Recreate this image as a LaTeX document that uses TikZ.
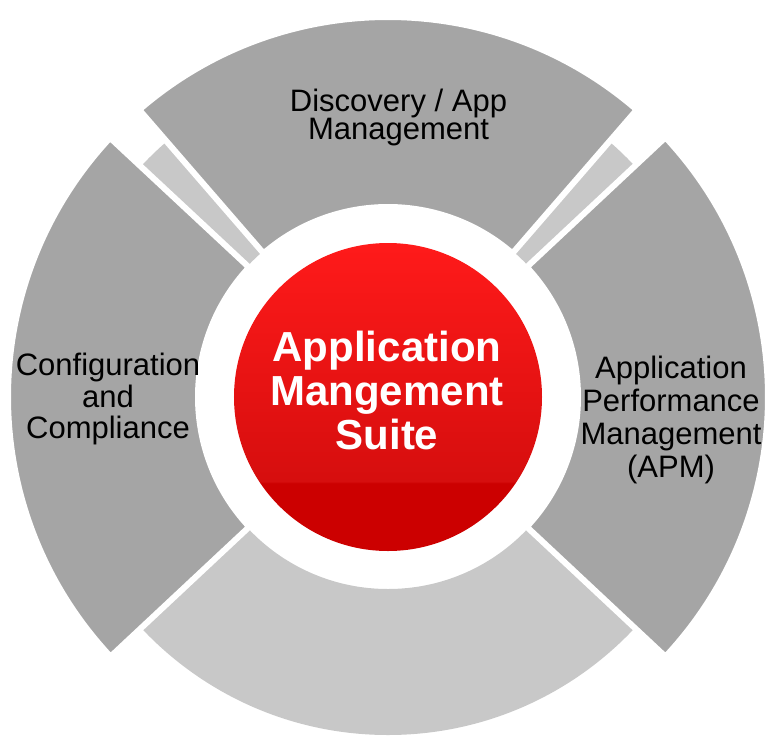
\documentclass[tikz,border=0pt]{standalone}
\usepackage{fontspec}
\setmainfont{Liberation Sans}
\usetikzlibrary{calc}

\definecolor{segdark}{RGB}{165,165,165}
\definecolor{seglight}{RGB}{200,200,200}
\definecolor{redtop}{RGB}{255,26,26}
\definecolor{redlow}{RGB}{214,14,14}
\definecolor{redband}{RGB}{204,0,0}
\pgfdeclareverticalshading{suitered}{100bp}{color(0bp)=(redband); color(36bp)=(redband); color(36.3bp)=(redlow); color(75bp)=(redtop); color(100bp)=(redtop)}

\tikzset{
 segment/.style={fill=segdark, draw=white, line width=6pt},
 seglabel/.style={align=center, inner sep=0pt, text=black},
}

\begin{document}
\begin{tikzpicture}
 \useasboundingbox (-388pt,-342pt) rectangle (379pt,397pt);
 \coordinate (O) at (0,0);

 \fill[seglight, even odd rule] (O) circle (338pt) (O) circle (192pt);
 \foreach \a/\b in {49.1/130.9, 137/223.1, -43.1/43.1}
  \draw[segment] (\a:190pt) -- (\a:380pt) arc[start angle=\a, end angle=\b, radius=380pt]
   -- (\b:190pt) arc[start angle=\b, end angle=\a, radius=190pt] -- cycle;

 %中央の円
 \shade[shading=suitered] (O) circle (154pt);

 \node[seglabel, font={\fontsize{31}{28}\selectfont\lineskiplimit=-20pt}] (discovery) at (10.5pt,280pt) {Discovery / App\\Management};
 \node[seglabel, font={\fontsize{31}{31.5}\selectfont\lineskiplimit=-20pt}] (config) at (-280pt,-2pt) {Configuration\\and\\Compliance};
 \node[seglabel, font={\fontsize{31}{33}\selectfont\lineskiplimit=-20pt}] (apm) at (283pt,-23pt) {Application\\Performance\\Management\\(APM)};
 \node[seglabel, text=white, font={\bfseries\fontsize{42}{44}\selectfont\lineskiplimit=-20pt}] (suite) at (-1pt,7pt) {Application\\Mangement\\Suite};
\end{tikzpicture}
\end{document}
